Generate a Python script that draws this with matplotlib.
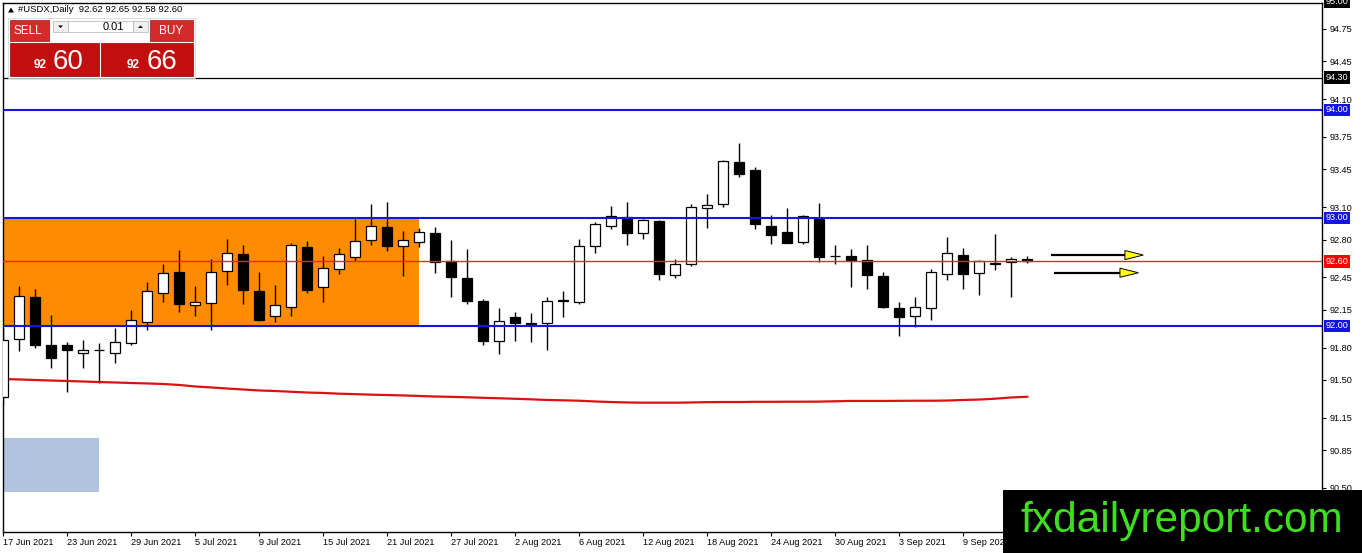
import matplotlib
matplotlib.use('Agg')
import matplotlib.pyplot as plt
from matplotlib.patches import Rectangle, Polygon
import matplotlib.transforms as mtransforms

plt.rcParams['font.family'] = ['Liberation Sans', 'DejaVu Sans']

# ---------------- data ----------------
opens = [91.34, 91.88, 92.27, 91.82, 91.82, 91.75, 91.78, 91.75, 91.84, 92.04,
         92.31, 92.50, 92.19, 92.21, 92.51, 92.67, 92.32, 92.09, 92.18, 92.73,
         92.36, 92.53, 92.64, 92.80, 92.92, 92.74, 92.78, 92.86, 92.60, 92.44,
         92.23, 91.86, 92.08, 92.02, 92.03, 92.23, 92.22, 92.74, 92.93, 93.01,
         92.86, 92.97, 92.47, 92.57, 93.09, 93.13, 93.52, 93.44, 92.93, 92.87,
         92.78, 92.99, 92.65, 92.65, 92.61, 92.46, 92.17, 92.09, 92.17, 92.48,
         92.66, 92.49, 92.58, 92.59, 92.62]
highs = [91.98, 92.37, 92.34, 92.10, 91.85, 91.87, 91.84, 91.98, 92.15, 92.41,
         92.57, 92.70, 92.37, 92.62, 92.81, 92.75, 92.50, 92.38, 92.77, 92.79,
         92.65, 92.72, 92.99, 93.13, 93.15, 92.88, 92.91, 92.92, 92.80, 92.71,
         92.25, 92.17, 92.13, 92.12, 92.27, 92.32, 92.81, 92.96, 93.11, 93.15,
         92.99, 92.98, 92.62, 93.13, 93.22, 93.54, 93.69, 93.47, 93.03, 93.09,
         93.03, 93.14, 92.75, 92.71, 92.75, 92.50, 92.22, 92.27, 92.53, 92.82,
         92.72, 92.61, 92.85, 92.64, 92.65]
lows = [91.27, 91.77, 91.80, 91.61, 91.39, 91.61, 91.47, 91.66, 91.82, 91.96,
        92.22, 92.13, 92.09, 91.96, 92.38, 92.20, 92.05, 92.04, 92.09, 92.31,
        92.22, 92.48, 92.60, 92.75, 92.69, 92.46, 92.73, 92.49, 92.27, 92.20,
        91.82, 91.74, 91.86, 91.85, 91.78, 92.08, 92.20, 92.68, 92.90, 92.75,
        92.81, 92.43, 92.44, 92.56, 92.91, 93.10, 93.38, 92.90, 92.76, 92.77,
        92.76, 92.59, 92.57, 92.36, 92.34, 92.17, 91.91, 91.99, 92.06, 92.43,
        92.34, 92.29, 92.52, 92.27, 92.58]
closes = [91.87, 92.28, 91.82, 91.70, 91.78, 91.78, 91.775, 91.85, 92.06, 92.32,
          92.49, 92.20, 92.22, 92.50, 92.68, 92.33, 92.06, 92.19, 92.75, 92.33,
          92.54, 92.67, 92.79, 92.93, 92.74, 92.80, 92.87, 92.59, 92.45, 92.23,
          91.86, 92.05, 92.03, 92.025, 92.23, 92.24, 92.74, 92.94, 93.02, 92.86,
          92.98, 92.48, 92.57, 93.10, 93.12, 93.53, 93.41, 92.94, 92.84, 92.77,
          93.02, 92.64, 92.645, 92.61, 92.47, 92.18, 92.08, 92.18, 92.50, 92.68,
          92.48, 92.60, 92.575, 92.62, 92.60]
ma_values = [91.509, 91.505, 91.500, 91.495, 91.491, 91.486, 91.481, 91.477, 91.472, 91.468,
             91.463, 91.454, 91.440, 91.431, 91.421, 91.412, 91.403, 91.398, 91.391, 91.384,
             91.380, 91.373, 91.369, 91.364, 91.361, 91.357, 91.352, 91.347, 91.344, 91.340,
             91.335, 91.331, 91.326, 91.321, 91.315, 91.312, 91.308, 91.301, 91.296, 91.292,
             91.290, 91.290, 91.290, 91.292, 91.295, 91.296, 91.296, 91.298, 91.298, 91.299,
             91.299, 91.300, 91.303, 91.306, 91.306, 91.306, 91.307, 91.308, 91.308, 91.310,
             91.315, 91.319, 91.327, 91.338, 91.345]
date_labels = ["17 Jun 2021", "23 Jun 2021", "29 Jun 2021", "5 Jul 2021", "9 Jul 2021",
               "15 Jul 2021", "21 Jul 2021", "27 Jul 2021", "2 Aug 2021", "6 Aug 2021",
               "12 Aug 2021", "18 Aug 2021", "24 Aug 2021", "30 Aug 2021", "3 Sep 2021",
               "9 Sep 2021"]
date_tick_bars = [0, 4, 8, 12, 16, 20, 24, 28, 32, 36, 40, 44, 48, 52, 56, 60]
price_ticks = [94.75, 94.45, 94.10, 93.75, 93.45, 93.10, 92.80, 92.45, 92.15,
               91.80, 91.50, 91.15, 90.85, 90.50]
blue_levels = [94.00, 93.00, 92.00]
black_level = 94.30
red_level = 92.60
zone_bars = [0, 26]
zone_prices = [92.00, 93.00]
box_bars = [0, 6]
box_prices = [90.463, 90.963]
arrow_y = [92.657, 92.493]
arrow_x0 = [65.56, 65.75]
arrow_tip = [71.25, 70.94]
title_text = "#USDX,Daily  92.62 92.65 92.58 92.60"

# ---------------- layout ----------------
W, H = 1362, 553
fig = plt.figure(figsize=(W / 100, H / 100), dpi=100)
L, R, T, B = 3, 1322, 2.7, 532
ax = fig.add_axes([L / W, (H - B) / H, (R - L) / W, (B - T) / H])
ax.set_xlim(-0.02, (R - L) / 16 - 0.02)
ax.set_ylim(95.0185 - B / 108, 95.0185 - T / 108)

for s in ax.spines.values():
    s.set_color('black')
    s.set_linewidth(1.0)

BLUE = '#1414e6'

# zone and box
ax.add_patch(Rectangle((zone_bars[0], zone_prices[0]), zone_bars[1] - zone_bars[0],
                       zone_prices[1] - zone_prices[0], fc='#ff8c00', ec='none', zorder=0.5))
ax.add_patch(Rectangle((box_bars[0], box_prices[0]), box_bars[1] - box_bars[0],
                       box_prices[1] - box_prices[0], fc='#b0c4de', ec='none', zorder=0.5))

# candles
n = len(opens)
xs = list(range(n))
ax.vlines(xs, lows, highs, color='black', lw=1.0, zorder=2)
bottoms = [min(o, c) for o, c in zip(opens, closes)]
heights = [max(abs(c - o), 0.004) for o, c in zip(opens, closes)]
colors = ['white' if c >= o else 'black' for o, c in zip(opens, closes)]
ax.bar(xs, heights, bottom=bottoms, width=0.62, color=colors, edgecolor='black',
       linewidth=0.9, zorder=3)

# moving average
ax.plot(xs, ma_values, color='#dd1111', lw=1.6, zorder=2.5)

# horizontal levels
for lv in blue_levels:
    ax.axhline(lv, color=BLUE, lw=1.5, zorder=4)
ax.axhline(black_level, color='black', lw=0.9, zorder=4)
ax.axhline(red_level, color='#e82828', lw=1.0, zorder=4)

# arrows
for y, x0, xt in zip(arrow_y, arrow_x0, arrow_tip):
    base = xt - 1.15
    ax.plot([x0, base], [y, y], color='black', lw=1.6, zorder=5)
    ax.add_patch(Polygon([[base, y + 0.042], [xt, y], [base, y - 0.042]],
                         closed=True, fc='#ffff00', ec='black', lw=0.7, zorder=6))

# axes ticks
ax.yaxis.tick_right()
ax.set_yticks(price_ticks)
ax.set_yticklabels([f'{p:.2f}' for p in price_ticks])
ax.tick_params(axis='y', direction='out', length=3, width=0.8, pad=2.5,
               labelsize=6.6, colors='black')
ax.set_xticks(date_tick_bars)
ax.set_xticklabels(date_labels)
for lbl in ax.get_xticklabels():
    lbl.set_ha('left')
ax.tick_params(axis='x', direction='out', length=3, width=0.8, pad=1.2, labelsize=6.6)

# price tags on right axis
trans = mtransforms.blended_transform_factory(ax.transAxes, ax.transData)
def tag(price, bg):
    ax.text(1.0 + 3.5 / (R - L), price, f'{price:.2f}', transform=trans, ha='left',
            va='center', fontsize=6.6, color='white', clip_on=False, zorder=10,
            bbox=dict(boxstyle='square,pad=0.2', fc=bg, ec='none'))
tag(95.00, 'black')
tag(black_level, 'black')
for lv in blue_levels:
    tag(lv, BLUE)
tag(red_level, '#ff0000')

# ---------------- overlay (pixel coordinates) ----------------
ov = fig.add_axes([0, 0, 1, 1], zorder=5)
ov.set_xlim(0, W)
ov.set_ylim(H, 0)
ov.axis('off')
ov.patch.set_alpha(0)

# title
ov.add_patch(Polygon([[8, 12.5], [14, 12.5], [11, 7.5]], closed=True, fc='black', ec='none'))
ov.text(18, 10, title_text, fontsize=6.8, va='center', ha='left', color='black')

# trading widget
RED_BTN = '#d42a2a'
RED_BIG = '#c20e0e'
ov.add_patch(Rectangle((8, 18), 187, 60, fc='white', ec='#d0d0d0', lw=0.5))
ov.add_patch(Rectangle((10, 20), 39, 21, fc=RED_BTN, ec='#a01010', lw=0.5))
ov.text(27.5, 30.5, 'SELL', color='white', fontsize=8.5, ha='center', va='center')
ov.add_patch(Rectangle((150, 20), 43, 21, fc=RED_BTN, ec='#a01010', lw=0.5))
ov.text(171, 30.5, 'BUY', color='white', fontsize=8.5, ha='center', va='center')
ov.add_patch(Rectangle((53, 21), 15, 11, fc='#f0f0f0', ec='#b0b0b0', lw=0.5))
ov.add_patch(Polygon([[58, 25.5], [63, 25.5], [60.5, 28]], closed=True, fc='black', ec='none'))
ov.add_patch(Rectangle((68, 21), 65, 11, fc='white', ec='#b0b0b0', lw=0.5))
ov.text(124, 27, '0.01', color='black', fontsize=8, ha='right', va='center')
ov.add_patch(Rectangle((133, 21), 15, 11, fc='#f0f0f0', ec='#b0b0b0', lw=0.5))
ov.add_patch(Polygon([[138, 28], [143, 28], [140.5, 25.5]], closed=True, fc='black', ec='none'))
ov.add_patch(Rectangle((10, 43), 89, 33, fc=RED_BIG, ec='#8a0000', lw=0.5))
ov.add_patch(Rectangle((101, 43), 92, 33, fc=RED_BIG, ec='#8a0000', lw=0.5))
ov.text(34, 68.5, '92', color='white', fontsize=8.5, fontweight='bold', ha='left', va='baseline')
ov.text(53, 69, '60', color='white', fontsize=20, ha='left', va='baseline')
ov.text(127, 68.5, '92', color='white', fontsize=8.5, fontweight='bold', ha='left', va='baseline')
ov.text(147, 69, '66', color='white', fontsize=20, ha='left', va='baseline')

# logo
ov.add_patch(Rectangle((1003, 490), W - 1003, H - 490, fc='black', ec='none'))
ov.text(1182, 532, 'fxdailyreport.com', color='#3ee01e', fontsize=30.5,
        ha='center', va='baseline', family=['Liberation Sans', 'DejaVu Sans'])

fig.savefig('out.png', dpi=100, facecolor='white')
